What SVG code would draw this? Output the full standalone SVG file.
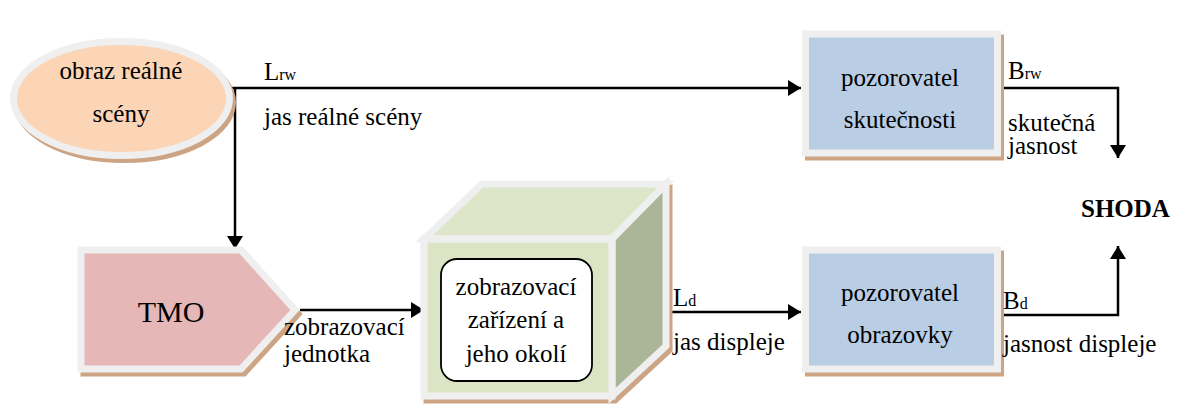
<svg xmlns="http://www.w3.org/2000/svg" width="1178" height="407" viewBox="0 0 1178 407">
  <style>
    .t { font-family: 'Liberation Serif', 'Times New Roman', Tinos, serif; font-size: 25px; fill: #000; }
    .c { text-anchor: middle; }
    .sub { font-size: 16px; }
    .big { font-size: 30px; }
    .bold { font-weight: bold; }
    .frame { stroke: #efefef; stroke-width: 7; stroke-linejoin: miter; }
    .shadow { fill: #cda584; stroke: #cda584; stroke-width: 7; }
    .conn { fill: none; stroke: #000; stroke-width: 2.5; }
  </style>
  <defs>
    <marker id="arrow" markerUnits="userSpaceOnUse" markerWidth="14" markerHeight="16" refX="13" refY="8" orient="auto">
      <path d="M0,0 L13,8 L0,16 Z" fill="#000"/>
    </marker>
  </defs>

  <!-- connectors -->
  <g id="connectors">
    <path class="conn" d="M232,88 H801" marker-end="url(#arrow)"/>
    <path class="conn" d="M235,88 V249" marker-end="url(#arrow)"/>
    <path class="conn" d="M300,310 H424" marker-end="url(#arrow)"/>
    <path class="conn" d="M668,312 H801" marker-end="url(#arrow)"/>
    <path class="conn" d="M1003,88 H1118 V158" marker-end="url(#arrow)"/>
    <path class="conn" d="M1003,315 H1118 V246" marker-end="url(#arrow)"/>
  </g>

  <!-- scene source -->
  <g id="scene">
    <ellipse class="shadow" cx="124.5" cy="102.5" rx="108" ry="57"/>
    <ellipse class="frame" cx="121.5" cy="98.5" rx="108" ry="57" fill="#fbd5b5"/>
    <text class="t c" x="121" y="79" font-family="Liberation Serif">obraz reálné</text>
    <text class="t c" x="121" y="122" font-family="Liberation Serif">scény</text>
  </g>

  <!-- tone mapping operator -->
  <g id="tmo">
    <polygon class="shadow" points="84,254 244,254 298,314 244,373 84,373"/>
    <polygon class="frame" points="81,250 241,250 295,310 241,369 81,369" fill="#e5b8b7"/>
    <text class="t big c" x="171" y="322" font-family="Liberation Serif">TMO</text>
  </g>

  <!-- display device cube -->
  <g id="display">
    <polygon class="shadow" points="427,243 485,188 669,188 669,350 615,400 427,400"/>
    <polygon class="frame" points="424,239 482,184 666,184 612,239" fill="#dee6ca"/>
    <polygon class="frame" points="612,239 666,184 666,346 612,396" fill="#aab697"/>
    <rect class="frame" x="424" y="239" width="188" height="157" fill="#dbe5c6"/>
    <rect x="441" y="259" width="151" height="122" rx="16" ry="16" fill="#fff" stroke="#000" stroke-width="1.8"/>
    <text class="t c" x="516" y="295" font-family="Liberation Serif">zobrazovací</text>
    <text class="t c" x="516" y="328" font-family="Liberation Serif">zařízení a</text>
    <text class="t c" x="516" y="362" font-family="Liberation Serif">jeho okolí</text>
  </g>

  <!-- observer of reality -->
  <g id="observer-real">
    <rect class="shadow" x="808.5" y="38" width="192" height="119"/>
    <rect class="frame" x="805.5" y="34" width="192" height="119" fill="#b9cde5"/>
    <text class="t c" x="900" y="86" font-family="Liberation Serif">pozorovatel</text>
    <text class="t c" x="900" y="128" font-family="Liberation Serif">skutečnosti</text>
  </g>

  <!-- observer of the screen -->
  <g id="observer-screen">
    <rect class="shadow" x="808.5" y="254" width="192" height="119"/>
    <rect class="frame" x="805.5" y="250" width="192" height="119" fill="#b9cde5"/>
    <text class="t c" x="900" y="301" font-family="Liberation Serif">pozorovatel</text>
    <text class="t c" x="900" y="343" font-family="Liberation Serif">obrazovky</text>
  </g>

  <!-- edge labels -->
  <g id="labels">
    <text class="t" x="264" y="80" font-family="Liberation Serif">L<tspan class="sub">rw</tspan></text>
    <text class="t" x="264" y="125" font-family="Liberation Serif">jas reálné scény</text>
    <text class="t" x="284" y="335" font-family="Liberation Serif">zobrazovací</text>
    <text class="t" x="284" y="362" font-family="Liberation Serif">jednotka</text>
    <text class="t" x="673" y="306" font-family="Liberation Serif">L<tspan class="sub">d</tspan></text>
    <text class="t" x="673" y="350" font-family="Liberation Serif">jas displeje</text>
    <text class="t" x="1008" y="79" font-family="Liberation Serif">B<tspan class="sub">rw</tspan></text>
    <text class="t" x="1008" y="131" font-family="Liberation Serif">skutečná</text>
    <text class="t" x="1008" y="154" font-family="Liberation Serif">jasnost</text>
    <text class="t" x="1003" y="309" font-family="Liberation Serif">B<tspan class="sub">d</tspan></text>
    <text class="t" x="1003" y="352" font-family="Liberation Serif">jasnost displeje</text>
  </g>

  <g id="match">
    <text class="t bold" x="1081" y="217" font-family="Liberation Serif">SHODA</text>
  </g>
</svg>
